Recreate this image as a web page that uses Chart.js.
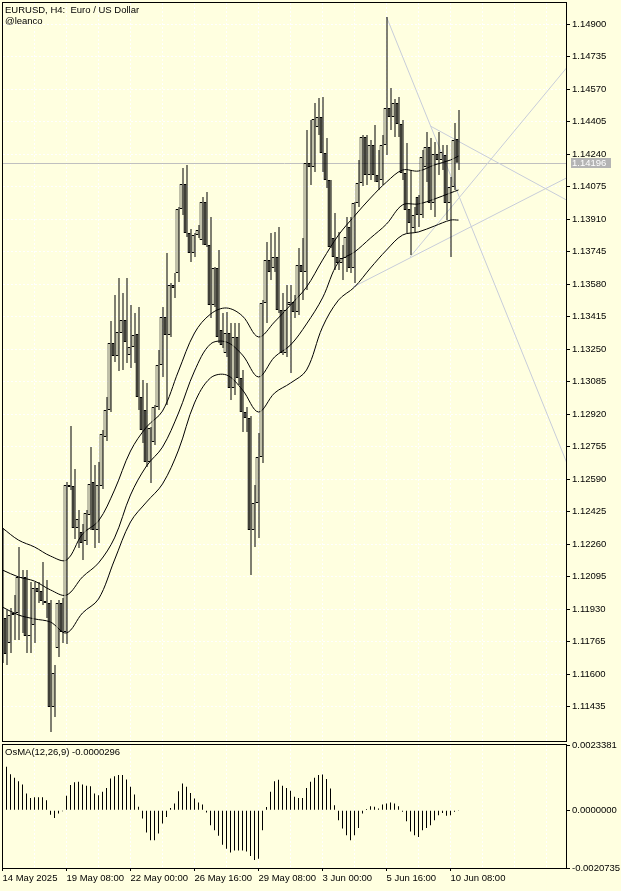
<!DOCTYPE html>
<html>
<head>
<meta charset="utf-8">
<script src="https://cdn.jsdelivr.net/npm/chart.js@4.4.0/dist/chart.umd.min.js"></script>
<style>
html, body { margin: 0; padding: 0; background: #ffffe0; }
body { width: 621px; height: 891px; position: relative; overflow: hidden; }
canvas { position: absolute; left: 0; }
#main { top: 0; }
#osma { top: 735px; }
</style>
</head>
<body>
<canvas id="main" width="621" height="745"></canvas>
<canvas id="osma" width="621" height="156"></canvas>
<script>
// EURUSD H4 candles, one entry per bar (oldest first)
const opens = [1.12241,1.11886,1.11759,1.11901,1.11911,1.12094,1.12094,1.11794,1.11850,1.12038,
  1.12023,1.11972,1.11962,1.11434,1.11733,1.11962,1.11815,1.12561,1.12555,1.12342,
  1.12322,1.12276,1.12408,1.12576,1.12332,1.12555,1.12804,1.12941,1.13281,1.13215,
  1.13332,1.13398,1.13220,1.13261,1.13327,1.13007,1.12941,1.12677,1.12779,1.12956,
  1.13170,1.13413,1.13322,1.13576,1.13637,1.13961,1.14088,1.13840,1.13738,1.13829,
  1.13804,1.13997,1.13779,1.13474,1.13662,1.13347,1.13230,1.13332,1.13053,1.13312,
  1.13104,1.12931,1.12901,1.12332,1.12469,1.12703,1.13484,1.13702,1.13662,1.13718,
  1.13449,1.13230,1.13474,1.13489,1.13439,1.13677,1.13642,1.14195,1.14174,1.14377,
  1.14428,1.14245,1.14108,1.13814,1.13718,1.13687,1.13713,1.13870,1.13662,1.13992,
  1.14093,1.14327,1.14134,1.14286,1.14134,1.14108,1.14286,1.14474,1.14428,1.14499,
  1.14393,1.14144,1.13961,1.13865,1.14022,1.13931,1.14174,1.14276,1.13992,1.14240,
  1.14210,1.14235,1.13992,1.14073,1.14317];
const highs = [1.12342,1.11926,1.11936,1.12002,1.12246,1.12129,1.12129,1.12068,1.12068,1.12068,
  1.12170,1.12078,1.11977,1.11647,1.11977,1.11987,1.12576,1.12860,1.12642,1.12434,
  1.12363,1.12434,1.12753,1.12662,1.12677,1.12840,1.13007,1.13393,1.13525,1.13611,
  1.13535,1.13611,1.13474,1.13433,1.13464,1.13093,1.13078,1.12855,1.12967,1.13246,
  1.13464,1.13738,1.13586,1.13637,1.13971,1.14169,1.14185,1.13860,1.13840,1.13880,
  1.14022,1.14048,1.13921,1.13667,1.13753,1.13433,1.13439,1.13383,1.13383,1.13383,
  1.13144,1.12956,1.12911,1.12561,1.12824,1.13499,1.13794,1.13840,1.13845,1.13870,
  1.13535,1.13576,1.13576,1.13525,1.13763,1.13814,1.14362,1.14413,1.14499,1.14525,
  1.14530,1.14322,1.14108,1.13941,1.13845,1.13779,1.13921,1.13921,1.13997,1.14210,
  1.14337,1.14337,1.14311,1.14388,1.14261,1.14337,1.14936,1.14575,1.14520,1.14530,
  1.14413,1.14296,1.14159,1.13971,1.14032,1.14261,1.14352,1.14322,1.14301,1.14352,
  1.14286,1.14286,1.14124,1.14398,1.14464];
const lows = [1.11657,1.11647,1.11708,1.11774,1.11774,1.11810,1.11708,1.11708,1.11759,1.11962,
  1.11952,1.11886,1.11307,1.11383,1.11688,1.11759,1.11754,1.12535,1.12287,1.12241,
  1.12180,1.12256,1.12332,1.12241,1.12266,1.12540,1.12784,1.12931,1.13185,1.13139,
  1.13144,1.13180,1.13154,1.13180,1.12941,1.12774,1.12652,1.12571,1.12764,1.12941,
  1.13109,1.12967,1.13312,1.13510,1.13591,1.13931,1.13819,1.13692,1.13718,1.13814,
  1.13779,1.13768,1.13408,1.13464,1.13281,1.13256,1.13210,1.12992,1.13017,1.13068,
  1.12830,1.12830,1.12104,1.12246,1.12292,1.12672,1.13383,1.13601,1.13642,1.13433,
  1.13220,1.13210,1.13129,1.13408,1.13423,1.13499,1.13550,1.14083,1.14149,1.14337,
  1.14149,1.14068,1.13763,1.13652,1.13652,1.13601,1.13642,1.13637,1.13586,1.13971,
  1.14078,1.14083,1.14108,1.14098,1.14058,1.14083,1.14235,1.14362,1.14327,1.14327,
  1.14108,1.13840,1.13728,1.13840,1.13870,1.13916,1.14098,1.13956,1.13921,1.14134,
  1.14159,1.13905,1.13718,1.14058,1.14159];
const closes = [1.11875,1.11703,1.11901,1.11911,1.12094,1.12089,1.11794,1.11799,1.12038,1.12018,
  1.11972,1.11962,1.11434,1.11606,1.11962,1.11815,1.12561,1.12550,1.12342,1.12388,
  1.12266,1.12418,1.12566,1.12332,1.12561,1.12819,1.12941,1.13281,1.13215,1.13337,
  1.13398,1.13286,1.13261,1.13322,1.13007,1.12840,1.12677,1.12850,1.12956,1.13170,
  1.13413,1.13322,1.13576,1.13560,1.13961,1.14088,1.13840,1.13738,1.13829,1.13855,
  1.13997,1.13779,1.13474,1.13662,1.13312,1.13271,1.13332,1.13053,1.13312,1.13104,
  1.12931,1.12901,1.12332,1.12469,1.12703,1.13484,1.13702,1.13642,1.13718,1.13449,
  1.13230,1.13449,1.13489,1.13439,1.13677,1.13642,1.14195,1.14174,1.14418,1.14428,
  1.14245,1.14108,1.13768,1.13718,1.13687,1.13713,1.13819,1.13662,1.13992,1.14093,
  1.14327,1.14134,1.14286,1.14134,1.14098,1.14286,1.14474,1.14428,1.14499,1.14393,
  1.14144,1.13956,1.13890,1.13931,1.13931,1.14225,1.14276,1.13992,1.14240,1.14210,
  1.14251,1.13992,1.14073,1.14311,1.14196];

// OsMA(12,26,9) histogram, one value per bar
const osma = [0.00180,0.00156,0.00129,0.00116,0.00104,0.00092,0.00060,0.00044,0.00046,0.00046,
  0.00046,0.00036,-0.00016,-0.00028,-0.00012,-0.00004,0.00052,0.00090,0.00100,0.00102,
  0.00092,0.00088,0.00086,0.00060,0.00054,0.00066,0.00080,0.00114,0.00122,0.00126,
  0.00126,0.00110,0.00084,0.00056,0.00012,-0.00030,-0.00080,-0.00108,-0.00108,-0.00084,
  -0.00048,-0.00024,0.00008,0.00024,0.00068,0.00096,0.00084,0.00062,0.00042,0.00028,
  0.00020,-0.00008,-0.00054,-0.00072,-0.00092,-0.00124,-0.00138,-0.00152,-0.00145,-0.00145,
  -0.00145,-0.00148,-0.00164,-0.00179,-0.00174,-0.00072,0.00011,0.00066,0.00104,0.00109,
  0.00088,0.00080,0.00070,0.00048,0.00044,0.00044,0.00080,0.00102,0.00116,0.00126,
  0.00128,0.00112,0.00078,0.00018,-0.00036,-0.00066,-0.00090,-0.00108,-0.00090,-0.00064,
  -0.00012,0.00004,0.00014,0.00012,0.00006,0.00020,0.00024,0.00028,0.00024,0.00014,
  -0.00006,-0.00040,-0.00076,-0.00090,-0.00096,-0.00072,-0.00064,-0.00054,-0.00036,-0.00018,
  -0.00010,-0.00020,-0.00018,-0.00006,-0.0000296];

// band lines, read at every 4th bar
const bandBars = [0,4,8,12,16,20,24,28,32,36,40,44,48,52,56,60,64,68,72,76,80,84,88,92,96,100,104,108,112,114];
const bandUpper = [1.12342,1.12281,1.12246,1.12200,1.12180,1.12312,1.12378,1.12535,1.12733,1.12855,
  1.12936,1.13139,1.13332,1.13428,1.13459,1.13418,1.13312,1.13388,1.13474,1.13565,
  1.13702,1.13829,1.13926,1.14017,1.14098,1.14159,1.14154,1.14185,1.14210,1.14230];
const bandMiddle = [1.12129,1.12094,1.12073,1.12028,1.12002,1.12094,1.12165,1.12292,1.12510,1.12657,
  1.12753,1.12926,1.13139,1.13276,1.13286,1.13220,1.13109,1.13210,1.13271,1.13378,
  1.13510,1.13692,1.13743,1.13814,1.13885,1.13982,1.13987,1.14012,1.14043,1.14058];
const bandLower = [1.11941,1.11901,1.11881,1.11865,1.11810,1.11911,1.11982,1.12180,1.12373,1.12474,
  1.12566,1.12738,1.12977,1.13104,1.13119,1.13043,1.12931,1.13027,1.13078,1.13144,
  1.13362,1.13499,1.13565,1.13662,1.13753,1.13829,1.13845,1.13875,1.13905,1.13905];

// drawn trend lines: [bar, price] pairs
const trendLines = [
  [[96, 1.14936], [141, 1.12677]],
  [[107, 1.14382], [141, 1.14007]],
  [[101.9, 1.13718], [141, 1.14677]],
  [[87.6, 1.13565], [141, 1.14119]]
];

const priceTicks = [1.11435,1.11600,1.11765,1.11930,1.12095,1.12260,1.12425,1.12590,1.12755,1.12920,
  1.13085,1.13250,1.13415,1.13580,1.13745,1.13910,1.14075,1.14240,1.14405,1.14570,1.14735,1.14900];
const dateLabels = ['14 May 2025','19 May 08:00','22 May 00:00','26 May 16:00','29 May 08:00','3 Jun 00:00','5 Jun 16:00','10 Jun 08:00'];
const osmaTicks = [-0.0020735, 0, 0.0023381];
const bidPrice = 1.14196;

const BG = '#ffffe0';
const GRID = '#ffffff';
const TREND = '#c8cdd9';
const FONT = '"Liberation Sans", Arial, sans-serif';
const X_MIN = 0.125, X_MAX = 140.875;
const Y_MIN = 1.112614, Y_MAX = 1.150068;

Chart.defaults.font.family = FONT;
Chart.defaults.font.size = 9.5;
Chart.defaults.color = '#000';

const idx = closes.map((c, i) => i);
const gridBars = [];
for (let b = 0; b <= 136; b += 8) gridBars.push(b);

const framePlugin = {
    id: 'frame',
    afterDraw(chart) {
        const { ctx, chartArea: { left, top, right, bottom } } = chart;
        ctx.save();
        ctx.strokeStyle = '#000';
        ctx.lineWidth = 1;
        ctx.strokeRect(left - 0.5, top - 0.5, right - left + 1, bottom - top + 1);
        ctx.restore();
    }
};

const mainTextPlugin = {
    id: 'mainText',
    beforeDatasetsDraw(chart) {
        const { ctx, chartArea } = chart;
        const y = Math.round(chart.scales.y.getPixelForValue(bidPrice)) + 0.5;
        ctx.save();
        ctx.strokeStyle = '#c0c0c0';
        ctx.lineWidth = 1;
        ctx.beginPath();
        ctx.moveTo(chartArea.left, y);
        ctx.lineTo(chartArea.right, y);
        ctx.stroke();
        ctx.restore();
    },
    afterDraw(chart) {
        const { ctx, chartArea } = chart;
        const y = Math.round(chart.scales.y.getPixelForValue(bidPrice));
        ctx.save();
        ctx.font = '9.5px ' + FONT;
        ctx.textBaseline = 'middle';
        ctx.fillStyle = '#000';
        ctx.fillText('EURUSD, H4:  Euro / US Dollar', 5, 10);
        ctx.fillText('@leanco', 5, 21);
        ctx.fillStyle = '#b4b4b4';
        ctx.fillRect(chartArea.right + 5, y - 5, 40, 10);
        ctx.fillStyle = '#fff';
        ctx.fillText(bidPrice.toFixed(5), chartArea.right + 6, y + 0.5);
        ctx.restore();
    }
};

const osmaTextPlugin = {
    id: 'osmaText',
    afterDraw(chart) {
        const { ctx } = chart;
        ctx.save();
        ctx.font = '9.5px ' + FONT;
        ctx.textBaseline = 'middle';
        ctx.fillStyle = '#000';
        ctx.fillText('OsMA(12,26,9) ' + osma[osma.length - 1].toFixed(7), 5, 17);
        ctx.restore();
    }
};

const bandSet = (values) => ({
    type: 'line',
    xAxisID: 'x',
    data: bandBars.map((b, j) => ({ x: b, y: values[j] })),
    borderColor: '#000',
    borderWidth: 1,
    pointRadius: 0,
    tension: 0.35,
    order: 2
});

const trendSets = trendLines.map(line => ({
    type: 'line',
    xAxisID: 'x',
    data: line.map(p => ({ x: p[0], y: p[1] })),
    borderColor: TREND,
    borderWidth: 1,
    pointRadius: 0,
    order: 3
}));

new Chart(document.getElementById('main'), {
    type: 'bar',
    data: {
        datasets: [
            {
                xAxisID: 'xb',
                data: idx.map(i => ({ x: i, y: [opens[i], closes[i]] })),
                backgroundColor: idx.map(i => closes[i] >= opens[i] ? BG : '#000'),
                borderColor: '#000',
                borderWidth: 1,
                borderSkipped: false,
                barThickness: 3,
                inflateAmount: 0,
                minBarLength: 1,
                order: 0
            },
            {
                xAxisID: 'x',
                data: idx.map(i => ({ x: i, y: [lows[i], highs[i]] })),
                backgroundColor: '#000',
                borderWidth: 0,
                barThickness: 1,
                inflateAmount: 0,
                order: 1
            },
            bandSet(bandUpper),
            bandSet(bandMiddle),
            bandSet(bandLower),
            ...trendSets
        ]
    },
    options: {
        responsive: false,
        animation: false,
        events: [],
        layout: { padding: { left: 3, top: 3, right: 0, bottom: 4 } },
        plugins: { legend: { display: false }, tooltip: { enabled: false } },
        scales: {
            x: {
                type: 'linear', min: X_MIN, max: X_MAX, offset: false,
                afterBuildTicks: s => { s.ticks = gridBars.filter(b => b > 0).map(v => ({ value: v })); },
                ticks: { display: false },
                grid: { color: GRID, drawTicks: false, offset: false },
                border: { display: false, dash: [2, 2] },
                afterFit: s => { s.height = 0; s.paddingLeft = 0; s.paddingRight = 0; }
            },
            xb: { type: 'linear', min: X_MIN, max: X_MAX, offset: false, display: false },
            y: {
                position: 'right', min: Y_MIN, max: Y_MAX, beginAtZero: false,
                afterBuildTicks: s => { s.ticks = priceTicks.map(v => ({ value: v })); },
                ticks: { callback: v => v.toFixed(5), padding: 2, autoSkip: false },
                grid: { color: GRID, tickColor: '#000', tickLength: 4 },
                border: { display: false, dash: [2, 2] },
                afterFit: s => { s.width = 55; s.paddingTop = 0; s.paddingBottom = 0; }
            }
        }
    },
    plugins: [framePlugin, mainTextPlugin]
});

new Chart(document.getElementById('osma'), {
    type: 'bar',
    data: {
        datasets: [{
            data: idx.map(i => ({ x: i, y: osma[i] })),
            backgroundColor: '#000',
            borderWidth: 0,
            barThickness: 1,
            inflateAmount: 0
        }]
    },
    options: {
        responsive: false,
        animation: false,
        events: [],
        layout: { padding: { left: 3, top: 10, right: 0, bottom: 0 } },
        plugins: { legend: { display: false }, tooltip: { enabled: false } },
        scales: {
            x: {
                type: 'linear', min: X_MIN, max: X_MAX, offset: false,
                afterBuildTicks: s => { s.ticks = gridBars.map(v => ({ value: v })); },
                ticks: {
                    autoSkip: false, maxRotation: 0, align: 'start', padding: 2,
                    callback: v => (v % 16 === 0 && v / 16 < dateLabels.length) ? dateLabels[v / 16] : ''
                },
                grid: {
                    offset: false,
                    tickLength: 3,
                    color: c => (c.tick && c.tick.value > 0) ? GRID : 'rgba(0,0,0,0)',
                    tickColor: c => (c.tick && c.tick.value % 16 === 0 && c.tick.value <= 112) ? '#000' : 'rgba(0,0,0,0)'
                },
                border: { display: false, dash: [2, 2] },
                afterFit: s => { s.height = 23; s.paddingLeft = 0; s.paddingRight = 0; }
            },
            y: {
                position: 'right', min: osmaTicks[0], max: osmaTicks[2], beginAtZero: false,
                afterBuildTicks: s => { s.ticks = osmaTicks.map(v => ({ value: v })); },
                ticks: { callback: v => v.toFixed(7), padding: 2, autoSkip: false },
                grid: { color: 'rgba(0,0,0,0)', tickColor: '#000', tickLength: 4 },
                border: { display: false },
                afterFit: s => { s.width = 55; s.paddingTop = 0; s.paddingBottom = 0; }
            }
        }
    },
    plugins: [framePlugin, osmaTextPlugin]
});
</script>
</body>
</html>
